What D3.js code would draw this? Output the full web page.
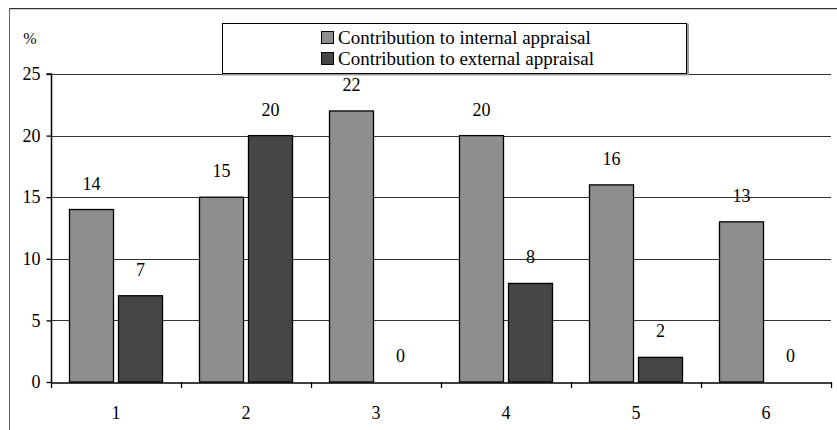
<!DOCTYPE html>
<html><head><meta charset="utf-8">
<script src="https://cdn.jsdelivr.net/npm/d3@7"></script>
<style>
@font-face{font-family:"ChartSerif";src:local("Liberation Serif"),local("LiberationSerif"),local("LiberationSerif-Regular"),local("Times New Roman");}
svg text{font-family:"Liberation Serif","ChartSerif","Times New Roman",Times,serif !important;}
</style>
</head><body style="margin:0">
<svg id="c" width="837" height="430" style="display:block"></svg>
<script>
const categories = ["1","2","3","4","5","6"];
const seriesNames = ["Contribution to internal appraisal","Contribution to external appraisal"];
const internalValues = [14,15,22,20,16,13];
const externalValues = [7,20,0,8,2,0];
const yTicks = [0,5,10,15,20,25];
const colors = ["#8e8e8e","#464646"];
const FONT = "Liberation Serif";

const svg = d3.select("#c");
svg.append("line").attr("x1",9).attr("x2",837).attr("y1",9.5).attr("y2",9.5).attr("stroke","#ccc").attr("stroke-width",1);
svg.append("line").attr("x1",9).attr("x2",837).attr("y1",8.5).attr("y2",8.5).attr("stroke","#333").attr("stroke-width",1.2);
svg.append("line").attr("x1",9.5).attr("x2",9.5).attr("y1",8).attr("y2",430).attr("stroke","#666").attr("stroke-width",1);

const m = {left:51, right:831, top:74, bottom:382};
const x = d3.scaleBand().domain(categories).range([m.left,m.right]);
const y = d3.scaleLinear().domain([0,25]).range([m.bottom,m.top]);

svg.append("g").selectAll("line").data(yTicks.filter(d=>d>0)).join("line")
  .attr("x1",m.left).attr("x2",m.right).attr("y1",d=>Math.round(y(d))+0.5).attr("y2",d=>Math.round(y(d))+0.5)
  .attr("stroke","#000").attr("stroke-width",0.8);

const barW = 44, gap = 5;
const series = [internalValues, externalValues];
series.forEach((vals,si)=>{
  const g = svg.append("g");
  const bx = c => x(c) + x.bandwidth()/2 - (2*barW+gap)/2 + si*(barW+gap);
  g.selectAll("rect").data(categories).join("rect")
    .attr("x",c=>bx(c)).attr("width",barW)
    .attr("y",(c,i)=>y(vals[i])).attr("height",(c,i)=>y(0)-y(vals[i]))
    .attr("fill",colors[si]).attr("stroke","#000").attr("stroke-width",1.3)
    .style("display",(c,i)=>vals[i]===0?"none":null);
  g.selectAll("text").data(categories).join("text")
    .attr("x",c=>bx(c)+barW/2).attr("y",(c,i)=>y(vals[i])-20)
    .attr("text-anchor","middle").attr("font-family",FONT).attr("font-size",18).text((c,i)=>vals[i]);
});

const ya = svg.append("g").attr("transform",`translate(${m.left+0.5},0)`)
  .call(d3.axisLeft(y).tickValues(yTicks).tickSize(5).tickPadding(6));
ya.attr("font-family",FONT).attr("font-size",18);
ya.select(".domain").attr("stroke","#000").attr("stroke-width",1.5).attr("d",`M-5,${m.top}H0V${m.bottom}`);
ya.selectAll("line").attr("stroke","#000").attr("stroke-width",1.3);
ya.selectAll("text").attr("fill","#000");

const xa = svg.append("g").attr("transform",`translate(0,${m.bottom+0.5})`)
  .call(d3.axisBottom(x).tickSize(0).tickPadding(24));
xa.attr("font-family",FONT).attr("font-size",18);
xa.select(".domain").attr("stroke","#000").attr("stroke-width",1.5);
xa.selectAll("text").attr("fill","#000");
const bounds = categories.map(c=>x(c)).concat([m.right]);
svg.append("g").selectAll("line").data(bounds).join("line")
  .attr("x1",d=>d+0.5).attr("x2",d=>d+0.5).attr("y1",m.bottom).attr("y2",m.bottom+6)
  .attr("stroke","#000").attr("stroke-width",1.3);

svg.append("text").attr("x",30).attr("y",44).attr("text-anchor","middle").attr("font-family",FONT).attr("font-size",16).text("%");

const lg = svg.append("g");
lg.append("rect").attr("x",223).attr("y",23.5).attr("width",464).attr("height",50).attr("fill","none").attr("stroke","#999").attr("stroke-width",2).attr("transform","translate(1,1)");
lg.append("rect").attr("x",222.5).attr("y",23.5).attr("width",464).attr("height",50).attr("fill","#fff").attr("stroke","#000").attr("stroke-width",1);
seriesNames.forEach((n,i)=>{
  const cy = 37.5 + i*21;
  lg.append("rect").attr("x",321.5).attr("y",cy-6).attr("width",12).attr("height",12).attr("fill",colors[i]).attr("stroke","#000").attr("stroke-width",1);
  lg.append("text").attr("x",338).attr("y",cy+6.5).attr("font-family",FONT).attr("font-size",19).text(n);
});
</script>
</body></html>
